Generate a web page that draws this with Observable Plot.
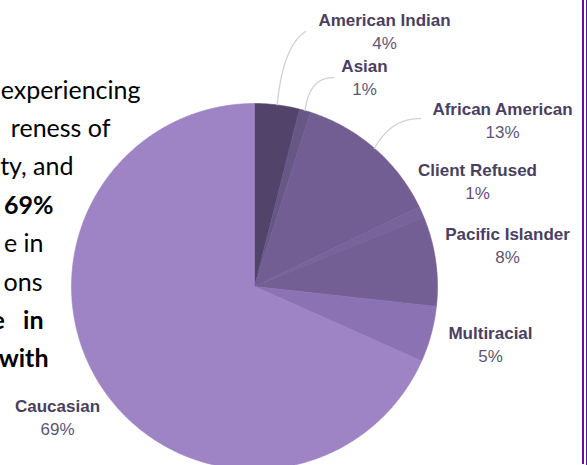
<!DOCTYPE html>
<html><head><meta charset="utf-8">
<script src="https://cdn.jsdelivr.net/npm/d3@7"></script>
<script src="https://cdn.jsdelivr.net/npm/@observablehq/plot@0.6"></script>
<style>
html,body{margin:0;padding:0;background:#fff;}
#wrap{position:relative;width:587px;height:465px;overflow:hidden;}
#wrap svg{position:absolute;left:0;top:0;}
.edge1{position:absolute;left:582px;top:0;width:2px;height:464px;background:#65109c;}
.edge2{position:absolute;left:586px;top:0;width:1px;height:465px;background:#65109c;}
</style></head><body>
<div id="wrap"><div class="edge1"></div><div class="edge2"></div></div>
<script>
// ---- data ----
const categories = ["American Indian","Asian","African American","Client Refused","Pacific Islander","Multiracial","Caucasian"];
const shares = [4, 1, 13, 1, 8, 5, 69];
const shareLabels = ["4%","1%","13%","1%","8%","5%","69%"];
const sliceColors = ["#51436a","#675786","#725e92","#78649a","#735f94","#8b72b2","#9e83c5"];
const hasLeader = [true, true, true, false, false, false, false];
const bodyLines = ["experiencing","reness of","ty, and","69%","e in","ons","e\u00a0\u00a0\u00a0in","with"];
const bodyBold = [false, false, false, true, false, false, true, true];

// ---- layout (pixels) ----
const CX = 254, CY = 286, R = 183;
const labelPos = [[384,25],[364,71],[502,114],[477,175],[507,239],[490,338],[57,411]];
const pctGap = 23;
const leaderEnd = [[305,31],[333,77],[420,118]];
const leaderBend = [[0.2,0.2],[0.15,0],[0.35,0]];
const bodyRight = [140,110,73,53,43,42,43,48];
const bodyTop = 98, bodyStep = 38.4;

const ux = px => (px - CX) / R;
const uy = py => (CY - py) / R;

const total = d3.sum(shares);
let cum = 0;
const slices = categories.map((c, i) => {
  const a0 = cum / total * 2 * Math.PI;
  cum += shares[i];
  const a1 = cum / total * 2 * Math.PI;
  return {cat: c, a0, a1, mid: (a0 + a1) / 2, i};
});

const wedgePts = [];
for (const s of slices) {
  wedgePts.push({cat: s.cat, x: 0, y: 0});
  const n = Math.max(2, Math.ceil((s.a1 - s.a0) / (Math.PI / 360)));
  for (let k = 0; k <= n; k++) {
    const t = s.a0 + (s.a1 - s.a0) * k / n;
    wedgePts.push({cat: s.cat, x: Math.sin(t), y: Math.cos(t)});
  }
  wedgePts.push({cat: s.cat, x: 0, y: 0});
}

const leaderPts = [];
slices.forEach((s, i) => {
  if (!hasLeader[i]) return;
  const p0 = [CX + R * Math.sin(s.mid), CY - R * Math.cos(s.mid)];
  const p2 = leaderEnd[i];
  const [a, b] = leaderBend[i];
  const c = [p0[0] + a * (p2[0] - p0[0]), p2[1] + b * (p0[1] - p2[1])];
  for (let k = 0; k <= 30; k++) {
    const t = k / 30;
    const px = (1-t)*(1-t)*p0[0] + 2*(1-t)*t*c[0] + t*t*p2[0];
    const py = (1-t)*(1-t)*p0[1] + 2*(1-t)*t*c[1] + t*t*p2[1];
    leaderPts.push({cat: s.cat, x: ux(px), y: uy(py)});
  }
});

const labels = categories.map((c, i) => ({
  name: c, pct: shareLabels[i],
  x: ux(labelPos[i][0]), y: uy(labelPos[i][1]), y2: uy(labelPos[i][1] + pctGap)
}));

const body = bodyLines.map((t, i) => ({
  text: t, bold: bodyBold[i], x: ux(bodyRight[i]), y: uy(bodyTop + i * bodyStep)
}));

const plot = Plot.plot({
  width: 587, height: 465, margin: 0,
  x: {domain: [-1, 1], range: [CX - R, CX + R], axis: null},
  y: {domain: [-1, 1], range: [CY + R, CY - R], axis: null},
  color: {domain: categories, range: sliceColors},
  style: {background: "transparent", overflow: "visible"},
  marks: [
    Plot.line(wedgePts, {x: "x", y: "y", z: "cat", fill: "cat", stroke: "cat", strokeWidth: 0.6, curve: "linear"}),
    Plot.line(leaderPts, {x: "x", y: "y", z: "cat", stroke: "#d2d2d2", strokeWidth: 1.3}),
    Plot.text(labels, {x: "x", y: "y", text: "name", fontFamily: "Liberation Sans, Arial, sans-serif", fontWeight: "bold", fontSize: 17, fill: "#4a3f5f", lineAnchor: "bottom"}),
    Plot.text(labels, {x: "x", y: "y2", text: "pct", fontFamily: "Liberation Sans, Arial, sans-serif", fontSize: 17, fill: "#5f5575", lineAnchor: "bottom"}),
    Plot.text(body.filter(d => !d.bold), {x: "x", y: "y", text: "text", textAnchor: "end", lineAnchor: "bottom", fontFamily: "Lato, sans-serif", fontSize: 25, fill: "#000"}),
    Plot.text(body.filter(d => d.bold), {x: "x", y: "y", text: "text", textAnchor: "end", lineAnchor: "bottom", fontFamily: "Lato, sans-serif", fontWeight: "bold", fontSize: 25, fill: "#000"})
  ]
});
document.getElementById("wrap").prepend(plot);
</script>
</body></html>
